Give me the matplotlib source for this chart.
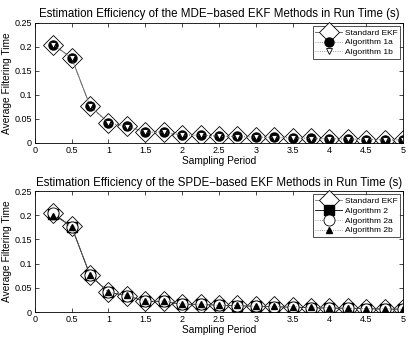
import matplotlib
matplotlib.use("Agg")
import matplotlib.pyplot as plt
import numpy as np

# ── data ──────────────────────────────────────────────────────────────────────
period = [0.25, 0.5, 0.75, 1.0, 1.25, 1.5, 1.75, 2.0, 2.25, 2.5,
          2.75, 3.0, 3.25, 3.5, 3.75, 4.0, 4.25, 4.5, 4.75, 5.0]

std_ekf_top = [0.205, 0.177, 0.077, 0.042, 0.035, 0.023, 0.023, 0.017, 0.016, 0.014,
               0.014, 0.012, 0.012, 0.011, 0.010, 0.009, 0.008, 0.007, 0.007, 0.006]
alg_1a = [0.205, 0.177, 0.077, 0.042, 0.035, 0.023, 0.023, 0.017, 0.016, 0.014,
          0.014, 0.012, 0.012, 0.011, 0.010, 0.009, 0.008, 0.007, 0.007, 0.006]
alg_1b = [0.204, 0.176, 0.076, 0.041, 0.034, 0.022, 0.022, 0.016, 0.016, 0.014,
          0.013, 0.012, 0.011, 0.010, 0.009, 0.008, 0.008, 0.007, 0.006, 0.006]

std_ekf_bot = [0.204, 0.177, 0.076, 0.041, 0.034, 0.023, 0.023, 0.017, 0.016, 0.014,
               0.014, 0.012, 0.012, 0.011, 0.009, 0.009, 0.008, 0.007, 0.007, 0.006]
alg_2 = [0.203, 0.176, 0.076, 0.041, 0.034, 0.022, 0.022, 0.016, 0.016, 0.014,
         0.013, 0.012, 0.011, 0.010, 0.009, 0.008, 0.008, 0.007, 0.006, 0.006]
alg_2a = [0.204, 0.176, 0.076, 0.041, 0.034, 0.022, 0.022, 0.016, 0.016, 0.014,
          0.013, 0.012, 0.011, 0.010, 0.009, 0.008, 0.008, 0.007, 0.006, 0.006]
alg_2b = [0.199, 0.176, 0.077, 0.041, 0.035, 0.023, 0.023, 0.017, 0.016, 0.014,
          0.014, 0.012, 0.012, 0.011, 0.010, 0.009, 0.008, 0.007, 0.007, 0.006]

xticks = [0, 0.5, 1, 1.5, 2, 2.5, 3, 3.5, 4, 4.5, 5]
yticks = [0, 0.05, 0.1, 0.15, 0.2, 0.25]

plt.rcParams["font.family"] = ["Liberation Sans", "DejaVu Sans"]

fig = plt.figure(figsize=(4.15, 3.37), dpi=100)
ax1 = fig.add_axes([0.084, 0.576, 0.887, 0.356])
ax2 = fig.add_axes([0.084, 0.074, 0.887, 0.359])


def style_axes(ax, title):
    ax.set_xlim(0, 5)
    ax.set_ylim(0, 0.25)
    ax.set_xticks(xticks)
    ax.set_xticklabels([f"{t:g}" for t in xticks])
    ax.set_yticks(yticks)
    ax.set_yticklabels([f"{t:g}" for t in yticks])
    ax.tick_params(direction="in", labelsize=6.5, length=3, width=0.5, pad=2,
                   top=True, right=True)
    for s in ax.spines.values():
        s.set_linewidth(0.6)
    ax.set_title(title, fontsize=8.3, pad=4)
    ax.set_xlabel("Sampling Period", fontsize=7.3, labelpad=1)
    ax.set_ylabel("Average Filtering Time", fontsize=7.3, labelpad=2)


# ── top panel ────────────────────────────────────────────────────────────────
ax1.plot(period, std_ekf_top, "-", color="#555555", lw=0.6, marker="D",
         ms=10, mfc="white", mec="black", mew=0.6, label="Standard EKF")
ax1.plot(period, alg_1a, ":", color="#777777", lw=0.6, marker="o",
         ms=6.5, mfc="black", mec="black", label="Algorithm 1a")
ax1.plot(period, alg_1b, ":", color="#777777", lw=0.6, marker="v",
         ms=4.5, mfc="white", mec="black", mew=0.6, label="Algorithm 1b")
style_axes(ax1, "Estimation Efficiency of the MDE\u2212based EKF Methods in Run Time (s)")
leg1 = ax1.legend(loc="upper right", fontsize=6, frameon=True, fancybox=False,
                  edgecolor="black", borderpad=0.3, labelspacing=0.25,
                  handlelength=3.2, handletextpad=0.3, borderaxespad=0.4)
leg1.get_frame().set_linewidth(0.6)

# ── bottom panel ─────────────────────────────────────────────────────────────
ax2.plot(period, std_ekf_bot, "-", color="#777777", lw=0.6, marker="D",
         ms=10, mfc="white", mec="black", mew=0.6, label="Standard EKF")
ax2.plot(period, alg_2, "-", color="black", lw=0.6, marker="s",
         ms=7, mfc="black", mec="black", label="Algorithm 2")
ax2.plot(period, alg_2a, ":", color="#777777", lw=0.6, marker="o",
         ms=8, mfc="white", mec="black", mew=0.6, label="Algorithm 2a")
ax2.plot(period, alg_2b, ":", color="#777777", lw=0.6, marker="^",
         ms=4.5, mfc="black", mec="black", label="Algorithm 2b")
style_axes(ax2, "Estimation Efficiency of the SPDE\u2212based EKF Methods in Run Time (s)")
leg2 = ax2.legend(loc="upper right", fontsize=6, frameon=True, fancybox=False,
                  edgecolor="black", borderpad=0.3, labelspacing=0.25,
                  handlelength=3.2, handletextpad=0.3, borderaxespad=0.4)
leg2.get_frame().set_linewidth(0.6)

fig.savefig("out.png", dpi=100)
